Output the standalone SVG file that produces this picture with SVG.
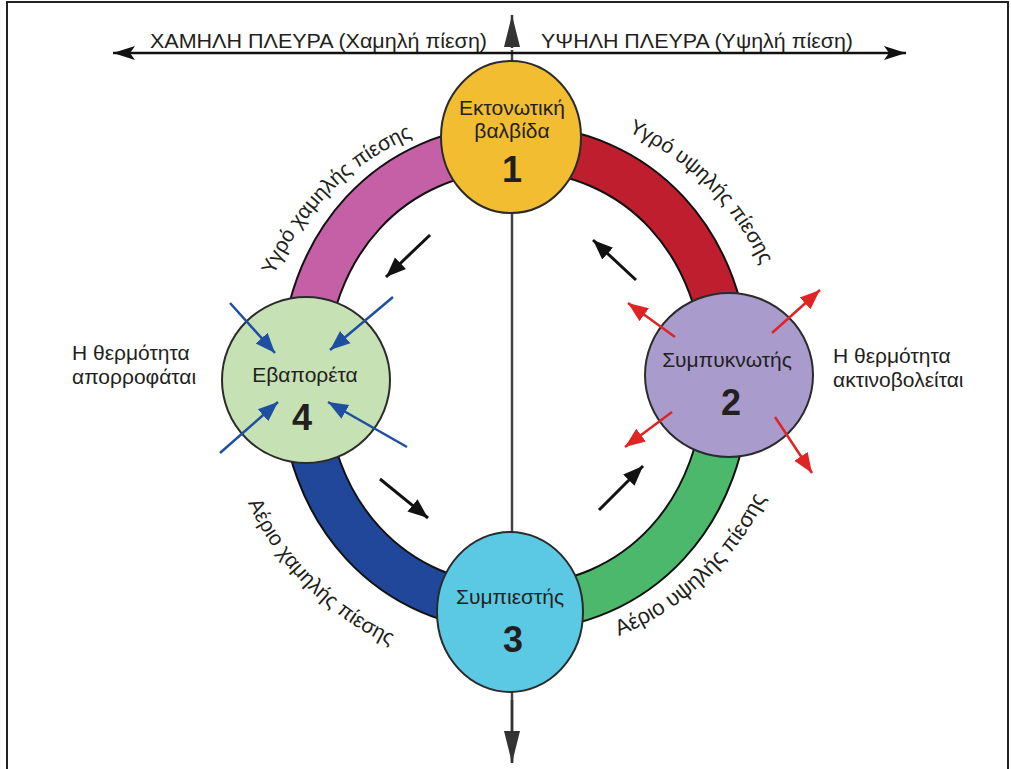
<svg xmlns="http://www.w3.org/2000/svg" xmlns:xlink="http://www.w3.org/1999/xlink" width="1011" height="769" viewBox="0 0 1011 769">
<style>
text{font-family:"Liberation Sans",Arial,sans-serif;fill:#231f20}
.lbl{font-size:21px}
.num{font-size:36px;font-weight:bold}
.side{font-size:21px}
.arc{font-size:21px}
.hdr{font-size:21px}
.node{stroke:#2b2b2b;stroke-width:2}
.bandO{fill:none;stroke:#111;stroke-width:48}
.band{fill:none;stroke-width:44}
.flow{stroke:#111;stroke-width:3;fill:none}
.blue{stroke:#1f4fa0;stroke-width:2.5;fill:none}
.red{stroke:#e02424;stroke-width:2.5;fill:none}
</style>
<defs>
<marker id="hBlack" markerUnits="userSpaceOnUse" markerWidth="22" markerHeight="22" viewBox="0 0 22 22" refX="20" refY="11" orient="auto"><path d="M0,3 L20,11 L0,19 Z" fill="#111"/></marker>
<marker id="hBlue" markerUnits="userSpaceOnUse" markerWidth="22" markerHeight="22" viewBox="0 0 22 22" refX="20" refY="11" orient="auto"><path d="M0,3 L20,11 L0,19 Z" fill="#1f4fa0"/></marker>
<marker id="hRed" markerUnits="userSpaceOnUse" markerWidth="22" markerHeight="22" viewBox="0 0 22 22" refX="20" refY="11" orient="auto"><path d="M0,3 L20,11 L0,19 Z" fill="#e02424"/></marker>
<marker id="hAxis" markerUnits="userSpaceOnUse" markerWidth="24" markerHeight="24" viewBox="0 0 24 24" refX="22" refY="12" orient="auto"><path d="M0,5 L22,12 L0,19 L5,12 Z" fill="#111"/></marker>
<marker id="hV" markerUnits="userSpaceOnUse" markerWidth="34" markerHeight="20" viewBox="0 0 34 20" refX="32" refY="10" orient="auto"><path d="M0,2 L32,10 L0,18 Z" fill="#333"/></marker>
<path id="pTL" d="M 253 378 A 262 262 0 0 1 515 116"/>
<path id="pTR" d="M 515 107 A 271 271 0 0 1 786 378"/>
<path id="pBL" d="M 220 378 A 295 295 0 0 0 515 673"/>
<path id="pBR" d="M 515 656 A 278 278 0 0 0 793 378"/>
</defs>
<rect x="7" y="2" width="1001" height="800" fill="none" stroke="#222" stroke-width="2"/>

<g id="ring">
<path class="bandO" d="M 303 378 C 303 244.6 392 148 515 148"/>
<path class="band" stroke="#c55fa6" d="M 303 378 C 303 244.6 392 148 515 148"/>
<path class="bandO" d="M 515 148 C 638 148 727 244.6 727 378"/>
<path class="band" stroke="#be1e2d" d="M 515 148 C 638 148 727 244.6 727 378"/>
<path class="bandO" d="M 727 378 C 727 511.4 638 608 515 608"/>
<path class="band" stroke="#4cb86c" d="M 727 378 C 727 511.4 638 608 515 608"/>
<path class="bandO" d="M 515 608 C 392 608 303 511.4 303 378"/>
<path class="band" stroke="#21479b" d="M 515 608 C 392 608 303 511.4 303 378"/>
</g>

<g id="connectors">
<line x1="512" y1="48" x2="512" y2="15" stroke="#333" stroke-width="2.5" marker-end="url(#hV)"/>
<line x1="512" y1="50" x2="512" y2="762" stroke="#444" stroke-width="2.5"/>
<line x1="512" y1="700" x2="512" y2="763" stroke="#333" stroke-width="2.5" marker-end="url(#hV)"/>
<line x1="510" y1="53" x2="113" y2="53" stroke="#111" stroke-width="2.5" marker-end="url(#hAxis)"/>
<line x1="510" y1="53" x2="906" y2="53" stroke="#111" stroke-width="2.5" marker-end="url(#hAxis)"/>
<line class="flow" x1="430" y1="235" x2="386" y2="277" marker-end="url(#hBlack)"/>
<line class="flow" x1="636" y1="280" x2="593" y2="240" marker-end="url(#hBlack)"/>
<line class="flow" x1="380" y1="479" x2="428" y2="518" marker-end="url(#hBlack)"/>
<line class="flow" x1="599" y1="510" x2="643" y2="466" marker-end="url(#hBlack)"/>
</g>

<g id="n1">
<ellipse class="node" cx="511" cy="137" rx="70" ry="76" fill="#f2bd30"/>
<text class="lbl" x="512" y="115" text-anchor="middle">Εκτονωτική</text>
<text class="lbl" x="512" y="138" text-anchor="middle">βαλβίδα</text>
<text class="num" x="512" y="182" text-anchor="middle">1</text>
</g>

<g id="n2">
<ellipse class="node" cx="729" cy="375" rx="84" ry="82" fill="#a99ccd"/>
<text class="lbl" x="727" y="367" text-anchor="middle">Συμπυκνωτής</text>
<text class="num" x="731" y="415" text-anchor="middle">2</text>
</g>

<g id="n3">
<ellipse class="node" cx="510" cy="612" rx="73" ry="80" fill="#5bc9e4"/>
<text class="lbl" x="510" y="604" text-anchor="middle">Συμπιεστής</text>
<text class="num" x="513" y="652" text-anchor="middle">3</text>
</g>

<g id="n4">
<ellipse class="node" cx="306" cy="380" rx="84" ry="83" fill="#c6e1b4"/>
<text class="lbl" x="305" y="382" text-anchor="middle">Εβαπορέτα</text>
<text class="num" x="302" y="430" text-anchor="middle">4</text>
</g>

<g id="heat">
<line class="blue" x1="230" y1="303" x2="275" y2="353" marker-end="url(#hBlue)"/>
<line class="blue" x1="393" y1="297" x2="330" y2="350" marker-end="url(#hBlue)"/>
<line class="blue" x1="220" y1="453" x2="278" y2="402" marker-end="url(#hBlue)"/>
<line class="blue" x1="407" y1="447" x2="328" y2="402" marker-end="url(#hBlue)"/>
<line class="red" x1="675" y1="337" x2="628" y2="303" marker-end="url(#hRed)"/>
<line class="red" x1="772" y1="333" x2="820" y2="290" marker-end="url(#hRed)"/>
<line class="red" x1="672" y1="412" x2="625" y2="447" marker-end="url(#hRed)"/>
<line class="red" x1="775" y1="417" x2="812" y2="473" marker-end="url(#hRed)"/>
</g>

<g id="labels">
<text class="hdr" x="150" y="48" textLength="337" lengthAdjust="spacingAndGlyphs">ΧΑΜΗΛΗ ΠΛΕΥΡΑ (Χαμηλή πίεση)</text>
<text class="hdr" x="541" y="48" textLength="312" lengthAdjust="spacingAndGlyphs">ΥΨΗΛΗ ΠΛΕΥΡΑ (Υψηλή πίεση)</text>
<text class="side" x="72" y="360">Η θερμότητα</text>
<text class="side" x="72" y="384">απορροφάται</text>
<text class="side" x="833" y="363">Η θερμότητα</text>
<text class="side" x="833" y="387">ακτινοβολείται</text>
<text class="arc"><textPath xlink:href="#pTL" href="#pTL" startOffset="50%" text-anchor="middle">Υγρό χαμηλής πίεσης</textPath></text>
<text class="arc"><textPath xlink:href="#pTR" href="#pTR" startOffset="50%" text-anchor="middle">Υγρό υψηλής πίεσης</textPath></text>
<text class="arc"><textPath xlink:href="#pBL" href="#pBL" startOffset="50%" text-anchor="middle">Αέριο χαμηλής πίεσης</textPath></text>
<text class="arc" style="font-size:22px"><textPath xlink:href="#pBR" href="#pBR" startOffset="48%" text-anchor="middle">Αέριο υψηλής πίεσης</textPath></text>
</g>
</svg>
